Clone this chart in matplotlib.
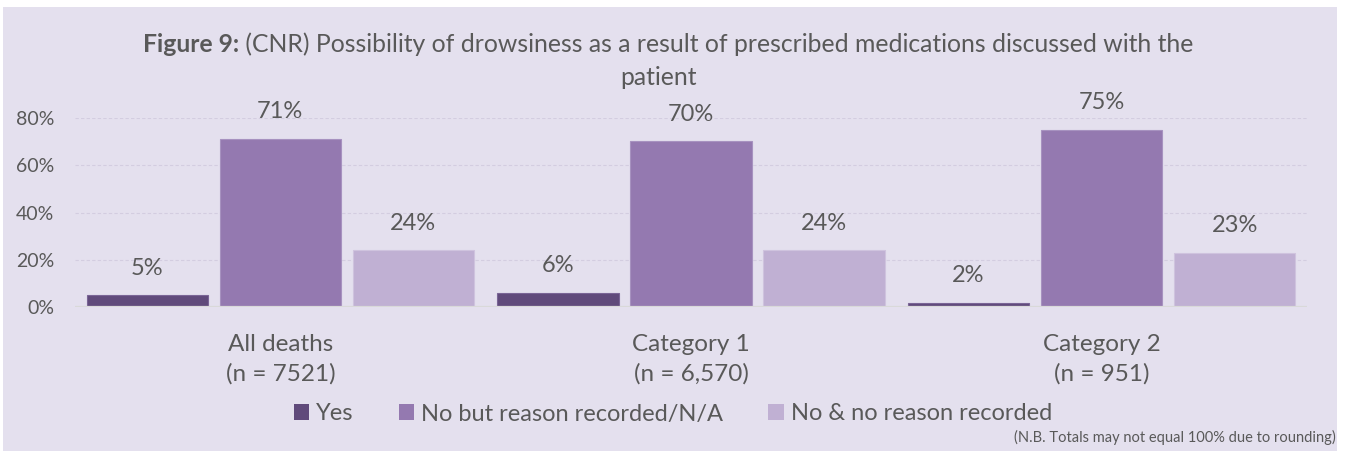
import matplotlib
matplotlib.use("Agg")
import matplotlib.pyplot as plt
from matplotlib.patches import Rectangle, Patch
import numpy as np

# ---- data ----
categories = ["All deaths\n(n = 7521)", "Category 1\n(n = 6,570)", "Category 2\n(n = 951)"]
series_names = ["Yes", "No but reason recorded/N/A", "No & no reason recorded"]
yes = [5, 6, 2]
no_but = [71, 70, 75]
no_no = [24, 24, 23]
yticks = [0, 20, 40, 60, 80]
ytick_labels = ["0%", "20%", "40%", "60%", "80%"]
title_bold = "Figure 9:"
title_rest = " (CNR) Possibility of drowsiness as a result of prescribed medications discussed with the"
title_line2 = "patient"
footnote = "(N.B. Totals may not equal 100% due to rounding)"

colors = ["#604A7B", "#9479B0", "#C0B0D3"]
edge_colors = ["#7A6596", "#A792C0", "#CFC3DE"]
txt = "#595959"
FONT = "Lato"
plt.rcParams["font.family"] = [FONT, "DejaVu Sans"]

W, H = 1345, 451
fig = plt.figure(figsize=(W / 100, H / 100), dpi=100)
fig.patch.set_facecolor("white")
fig.patches.append(Rectangle((3 / W, 0), (1337 - 3) / W, (H - 7) / H, transform=fig.transFigure,
                             facecolor="#E4E0EE", edgecolor="none", zorder=-10))

ax = fig.add_axes([75 / W, 1 - 307.3 / H, (1307 - 75) / W, (307.3 - 117.7) / H])
ax.set_facecolor("none")

x = np.arange(len(categories))
bw, sp = 0.295, 0.324
for i, (vals, c, ec) in enumerate(zip([yes, no_but, no_no], colors, edge_colors)):
    bars = ax.bar(x + (i - 1) * sp, vals, bw, color=c, edgecolor=ec, linewidth=0.8, zorder=3,
                  label=series_names[i])
    for b, v in zip(bars, vals):
        ax.annotate(f"{v}%", (b.get_x() + b.get_width() / 2, v), xytext=(0, 19.5),
                    textcoords="offset points", ha="center", va="center",
                    fontsize=17, color=txt)

ax.set_xlim(-0.5, 2.5)
ax.set_ylim(0, 80)
ax.set_yticks(yticks)
ax.set_yticklabels(ytick_labels, fontsize=14, color=txt)
ax.set_xticks(x)
ax.set_xticklabels(categories, fontsize=17.5, color=txt, linespacing=1.5)
ax.tick_params(axis="both", length=0)
ax.tick_params(axis="y", pad=15)
ax.tick_params(axis="x", pad=19)
for s in ax.spines.values():
    s.set_visible(False)
ax.grid(axis="y", color="#D3CDE0", linestyle=(0, (3, 2)), linewidth=0.8, zorder=0)
ax.axhline(0, color="#D9D9D9", linewidth=1.6, zorder=4)

# legend
handles = [Patch(facecolor=c, edgecolor="none") for c in colors]
fig.legend(handles, series_names, loc="center", bbox_to_anchor=(673 / W, 1 - 414 / H),
           ncol=3, frameon=False, fontsize=17, handlelength=0.66, handleheight=0.66,
           handletextpad=0.3, columnspacing=1.9, labelcolor=txt, borderaxespad=0, borderpad=0)

# footnote
fig.text(1336 / W, 1 - 437 / H, footnote, ha="right", va="center", fontsize=10.5, color=txt)

# title with bold prefix
renderer = fig.canvas.get_renderer()
t1 = fig.text(0, 1 - 52 / H, title_bold, fontsize=17.8, fontweight="bold", color=txt, va="baseline")
t2 = fig.text(0, 1 - 52 / H, title_rest, fontsize=17.8, color=txt, va="baseline")
w1 = t1.get_window_extent(renderer).width
w2 = t2.get_window_extent(renderer).width
start = 668 - (w1 + w2) / 2
t1.set_x(start / W)
t2.set_x((start + w1) / W)
fig.text(658 / W, 1 - 85 / H, title_line2, fontsize=17.8, color=txt, ha="center", va="baseline")

fig.savefig("out.png", dpi=100, facecolor=fig.get_facecolor())
